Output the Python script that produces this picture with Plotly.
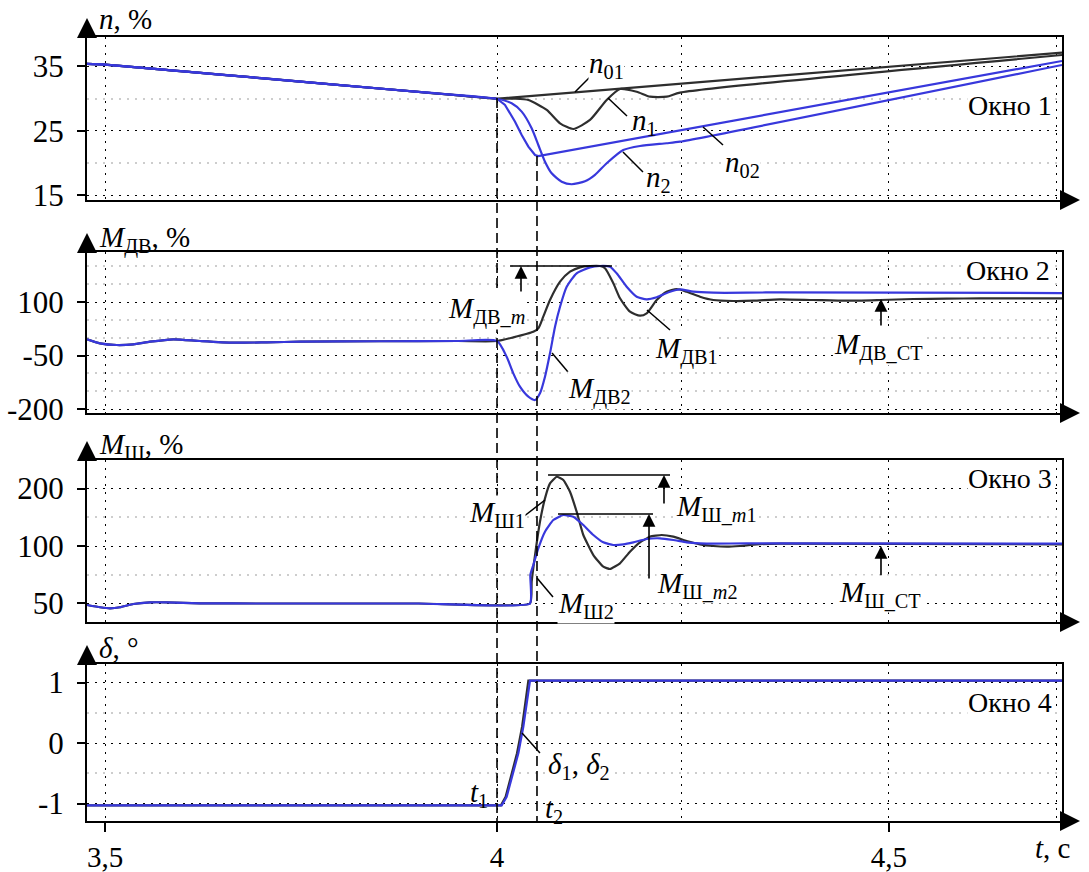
import plotly.graph_objects as go

FONT = "Liberation Serif, Times New Roman, DejaVu Serif, serif"
BLACK = "#2e2e2e"
BLUE = "#3838dc"
FS = 29
TFS = 31
XFS = 29

# ---------------- data ----------------
T_RANGE = [3.477, 4.7207]
x_tickvals = [3.5, 4.0, 4.5]
x_ticktext = ["3,5", "4", "4,5"]
x_extra_grid = [4.235, 4.714]

# Window 1 : n, %
t_n_pre = [3.477, 3.5, 3.6, 3.7, 3.8, 3.9, 4.0]
n_pre = [35.4, 35.3, 34.24, 33.18, 32.12, 31.06, 30.0]
t_n01 = [4.7207]
n01 = [37.14]
t_n1 = [4.023, 4.040, 4.0634, 4.0804, 4.0974, 4.1186, 4.1399, 4.1569, 4.1782, 4.1952, 4.2165, 4.2334, 4.7207]
n1 = [30.0, 29.8, 28.26, 26.19, 25.31, 26.71, 29.81, 31.51, 31.09, 30.32, 30.32, 30.94, 36.78]
t_n02 = [4.0102, 4.023, 4.0315, 4.04, 4.0485, 4.0527, 4.7207]
n02 = [29.03, 26.44, 24.38, 22.57, 21.28, 21.12, 35.85]
t_n2 = [4.0187, 4.0315, 4.0442, 4.0527, 4.0612, 4.0697, 4.0825, 4.0952, 4.1122, 4.125, 4.1399, 4.1611, 4.1824, 4.2164, 4.2334, 4.7207]
n2 = [29.29, 28.0, 25.42, 22.83, 20.24, 18.44, 17.14, 16.74, 17.2, 18.2, 20.0, 22.05, 22.67, 23.1, 23.34, 35.23]
n_ticks = [35, 25, 15]
n_minor = [30, 20]

# Window 2 : M_DV, %
t_m_pre = [3.477, 3.4936, 3.5149, 3.5361, 3.5574, 3.5871, 3.6212, 3.6637, 3.7062, 3.7487, 3.85, 3.95, 4.0]
m_pre = [-4.6, -15.8, -20.6, -18.6, -11.3, -4.6, -9.4, -14.1, -13.0, -11.3, -10.0, -9.4, -9.4]
t_mdv1 = [4.0208, 4.0463, 4.0527, 4.059, 4.0676, 4.0804, 4.0931, 4.1059, 4.1186, 4.1314, 4.1378, 4.1484,
          4.1569, 4.1696, 4.1824, 4.1909, 4.2037, 4.2164, 4.2292, 4.2419, 4.2589, 4.2759, 4.3014, 4.3269,
          4.361, 4.4034, 4.446, 4.4885, 4.531, 4.5736, 4.616, 4.658, 4.7207]
mdv1 = [1.0, 16.7, 26.2, 58.8, 105.6, 156.9, 185.0, 197.2, 200.9, 200.9, 194.5, 152.4,
        110.4, 72.8, 61.6, 68.3, 105.6, 128.9, 136.5, 128.9, 114.9, 105.6, 102.8, 103.6,
        107.6, 105.6, 103.6, 105.6, 108.4, 109.3, 110.4, 110.4, 110.4]
t_mdv2 = [4.0123, 4.0208, 4.0293, 4.04, 4.0485, 4.0548, 4.0612, 4.0676, 4.074, 4.0804, 4.0889, 4.1016,
          4.1186, 4.1314, 4.1441, 4.1526, 4.1654, 4.1782, 4.1909, 4.2037, 4.2207, 4.2334, 4.2504,
          4.2759, 4.3185, 4.361, 4.7207]
mdv2 = [-53.4, -100.0, -137.5, -165.5, -174.8, -156.0, -109.5, -43.8, 30.8, 86.8, 142.9, 180.5,
        197.2, 200.9, 199.0, 180.5, 142.9, 114.9, 107.6, 113.2, 128.9, 135.6, 128.9,
        126.1, 126.1, 127.2, 125.0]
mdv_ticks = [100, -50, -200]
mdv_minor = [200, 150, 50, 0, -100, -150]
mdv_m_level = 200.9
mdv_st_level = 108.4

# Window 3 : M_Sh (axis units; tick labels as printed on the original)
t_s_pre = [3.477, 3.4936, 3.5064, 3.5191, 3.5361, 3.5574, 3.5786, 3.6212, 3.7, 3.9, 4.0421]
s_pre = [-2.6, -6.6, -8.4, -6.6, -0.9, 2.0, 2.0, 0.3, 0.0, 0.0, 0.0]
t_msh1 = [4.0442, 4.0485, 4.0548, 4.0612, 4.0676, 4.0761, 4.0846, 4.0931, 4.1016, 4.1101, 4.1229,
          4.1356, 4.1441, 4.1569, 4.1696, 4.1824, 4.1952, 4.2101, 4.2249, 4.2419, 4.2589, 4.2759,
          4.293, 4.3099, 4.3312, 4.361, 4.7207]
msh1 = [37.9, 84.3, 142.3, 182.9, 209.0, 220.5, 214.8, 194.4, 159.7, 119.1, 84.3,
        64.0, 60.0, 69.9, 90.1, 106.4, 116.2, 119.1, 116.2, 108.7, 102.9, 100.0,
        98.8, 100.0, 102.9, 104.0, 103.0]
t_msh2 = [4.0425, 4.0463, 4.0527, 4.0612, 4.0718, 4.0846, 4.0973, 4.1101, 4.1229, 4.1356, 4.1484,
          4.1611, 4.1739, 4.1909, 4.2079, 4.2249, 4.2419, 4.2589, 4.2759, 4.3185, 4.361, 4.7207]
msh2 = [49.6, 67.0, 96.0, 124.9, 145.2, 153.9, 151.0, 136.5, 119.1, 106.4, 101.7,
        102.9, 106.4, 112.2, 113.4, 110.4, 106.4, 104.7, 104.0, 104.7, 104.5, 104.0]
msh_tickvals = [0, 100, 200]
msh_ticktext = ["50", "100", "200"]
msh_minor = [50, 150]
msh_m1_level = 223.5
msh_m2_level = 155.7
msh_st_level = 100.0

# Window 4 : delta, deg
t_d1 = [3.477, 4.005, 4.011, 4.019, 4.0255, 4.032, 4.038, 4.040, 4.7207]
d1 = [-1.03, -1.03, -0.89, -0.5, -0.17, 0.27, 0.82, 1.03, 1.03]
t_d2 = [3.477, 4.006, 4.0123, 4.0208, 4.0272, 4.0336, 4.04, 4.0421, 4.7207]
d2 = [-1.03, -1.03, -0.89, -0.5, -0.17, 0.27, 0.82, 1.03, 1.03]
d_ticks = [1, 0, -1]
d_minor = [0.5, -0.5]

t1_time = 4.0
t2_time = 4.051

# ---------------- figure ----------------
L, T, W, H = 87, 37, 975, 784
FIG_W, FIG_H = 1089, 872


def px(x):
    return (x - L) / W


def py(y):
    return (T + H - y) / H


fig = go.Figure()


def line(x, y, color, ax, shape="spline", smooth=0.6, width=2.2):
    fig.add_trace(go.Scatter(x=x, y=y, mode="lines", xaxis=ax[0], yaxis=ax[1],
                             line=dict(color=color, width=width, shape=shape,
                                       smoothing=smooth if shape == "spline" else None),
                             hoverinfo="skip", showlegend=False))


A1, A2, A3, A4 = ("x", "y"), ("x2", "y2"), ("x3", "y3"), ("x4", "y4")

# window 1
line(t_n_pre + t_n01, n_pre + n01, BLACK, A1, shape="linear")
line(t_n_pre + t_n1, n_pre + n1, BLACK, A1)
line(t_n_pre + t_n02, n_pre + n02, BLUE, A1, shape="linear")
line(t_n_pre + t_n2, n_pre + n2, BLUE, A1)
# window 2
line(t_m_pre + t_mdv1, m_pre + mdv1, BLACK, A2)
line(t_m_pre + t_mdv2, m_pre + mdv2, BLUE, A2)
# window 3
line(t_s_pre + t_msh1, s_pre + msh1, BLACK, A3, smooth=0.4)
line(t_s_pre + t_msh2, s_pre + msh2, BLUE, A3, smooth=0.4)
# window 4
line(t_d1, d1, BLACK, A4, shape="linear")
line(t_d2, d2, BLUE, A4, shape="linear")

DOT = "2px,6px"
GRAY = "#cdcdcd"

domains = [(py(200), py(37)), (py(413), py(252)), (py(622), py(460)), (py(821), py(664))]
yranges = [[14.30, 39.57], [-211.2, 240.2], [-32.2, 249.6], [-1.289, 1.306]]
yticks = [(n_ticks, [str(v) for v in n_ticks], n_minor),
          (mdv_ticks, [str(v) for v in mdv_ticks], mdv_minor),
          (msh_tickvals, msh_ticktext, msh_minor),
          (d_ticks, [str(v) for v in d_ticks], d_minor)]

for i in range(4):
    sfx = "" if i == 0 else str(i + 1)
    last = i == 3
    fig.layout["xaxis" + sfx] = dict(
        range=T_RANGE, domain=[0, 1], anchor="y" + sfx, automargin=False,
        showline=True, linewidth=2, linecolor="black", mirror=True,
        tickvals=x_tickvals, ticktext=x_ticktext,
        showticklabels=last, ticks="outside" if last else "",
        ticklen=9, tickwidth=2, tickcolor="black", ticklabelstandoff=0,
        tickfont=dict(family=FONT, size=XFS, color="black"),
        showgrid=True, gridcolor="black", griddash=DOT, gridwidth=1.3,
        minor=dict(tickvals=x_extra_grid, showgrid=True, gridcolor="black",
                   griddash=DOT, gridwidth=1.3, ticks=""),
        zeroline=False, fixedrange=True)
    tv, tt, mn = yticks[i]
    fig.layout["yaxis" + sfx] = dict(
        range=yranges[i], domain=list(domains[i]), anchor="x" + sfx, automargin=False,
        showline=True, linewidth=2, linecolor="black", mirror=True,
        tickvals=tv, ticktext=tt, ticks="outside", ticklen=8, tickwidth=2,
        tickcolor="black", ticklabelstandoff=7,
        tickfont=dict(family=FONT, size=TFS, color="black"),
        showgrid=True, gridcolor="black", griddash=DOT, gridwidth=1.3,
        minor=dict(tickvals=mn, showgrid=True, gridcolor=GRAY, gridwidth=2, ticks=""),
        zeroline=False, fixedrange=True)

shapes = []
# t1 / t2 dashed markers through all windows
shapes.append(dict(type="line", xref="x", yref="paper", x0=t1_time, x1=t1_time,
                   y0=py(98), y1=py(828), line=dict(color="black", width=1.6, dash="10px,5px")))
shapes.append(dict(type="line", xref="x", yref="paper", x0=t2_time, x1=t2_time,
                   y0=py(156), y1=py(821), line=dict(color="black", width=1.6, dash="10px,5px")))


def seg(ax, x0, y0, x1, y1, w=1.5):
    shapes.append(dict(type="line", xref=ax[0], yref=ax[1], x0=x0, y0=y0, x1=x1, y1=y1,
                       line=dict(color="black", width=w)))


# level lines
seg(A2, 4.0166, mdv_m_level, 4.1467, mdv_m_level)
seg(A3, 4.0651, msh_m1_level, 4.2207, msh_m1_level)
seg(A3, 4.0778, msh_m2_level, 4.1990, msh_m2_level)
# leader lines
seg(A1, 4.0995, 31.05, 4.1186, 33.37)
seg(A1, 4.1416, 30.12, 4.1658, 27.33)
seg(A1, 4.1607, 21.74, 4.1862, 18.64)
seg(A1, 4.2628, 25.62, 4.2883, 22.83)
seg(A2, 4.1913, 77.6, 4.2207, 21.5)
seg(A2, 4.0702, -43.0, 4.0906, -96.3)
seg(A3, 4.0332, 150.4, 4.0612, 180.0)
seg(A3, 4.0510, 44.3, 4.0714, 11.3)
seg(A4, 4.0319, 0.165, 4.0548, -0.165)

fig.update_layout(shapes=shapes)

ann = []


def text(x, y, s, size=FS, bg=None, xanchor="center"):
    d = dict(x=px(x), y=py(y), xref="paper", yref="paper", text=s, showarrow=False,
             xanchor=xanchor, yanchor="middle",
             font=dict(family=FONT, size=size, color="black"))
    if bg:
        d["bgcolor"] = bg
        d["borderpad"] = 0
    ann.append(d)


def arrow_data(ax, x, y_tail, y_head):
    ann.append(dict(x=x, y=y_head, ax=x, ay=y_tail, xref=ax[0], yref=ax[1],
                    axref=ax[0], ayref=ax[1], text="", showarrow=True,
                    arrowhead=2, arrowsize=1.6, arrowwidth=1.6, arrowcolor="black"))


def arrow_paper(x, y, dx, dy):
    ann.append(dict(x=x, y=y, xref="paper", yref="paper", ax=dx, ay=dy, text="",
                    showarrow=True, arrowhead=2, arrowsize=2.0, arrowwidth=2,
                    arrowcolor="black"))


# axis arrows
for top, bot in [(37, 200), (252, 413), (460, 622), (664, 821)]:
    arrow_paper(0, py(top - 19), 0, 19)
    arrow_paper(px(1080), py(bot), -18, 0)

# level arrows
arrow_data(A2, 4.0306, 97.2, mdv_m_level)
arrow_data(A2, 4.4898, 29.9, mdv_st_level)
arrow_data(A3, 4.2130, 171.3, msh_m1_level)
arrow_data(A3, 4.1939, 40.9, msh_m2_level)
arrow_data(A3, 4.4898, 46.1, msh_st_level)

# axis titles
text(97, 19, "<i>n</i>, %", xanchor="left")
text(97, 240, "<i>M</i><sub>ДВ</sub>, %", xanchor="left")
text(97, 446, "<i>M</i><sub>Ш</sub>, %", xanchor="left")
text(97, 648, "<i>δ</i>, °", xanchor="left")
text(1052, 848, "<i>t</i>, с")

# window labels
text(1010, 106, "Окно 1", size=28, bg="white")
text(1008, 270, "Окно 2", size=28, bg="white")
text(1010, 478, "Окно 3", size=28, bg="white")
text(1010, 702, "Окно 4", size=28, bg="white")

# curve labels
text(606, 65, "<i>n</i><sub>01</sub>", bg="white")
text(644, 122, "<i>n</i><sub>1</sub>")
text(658, 179, "<i>n</i><sub>2</sub>")
text(742, 164, "<i>n</i><sub>02</sub>", bg="white")
text(486, 310, "<i>M</i><sub>ДВ_<i>m</i></sub>", bg="white")
text(686, 350, "<i>M</i><sub>ДВ1</sub>", bg="white")
text(599, 390, "<i>M</i><sub>ДВ2</sub>", bg="white")
text(878, 346, "<i>M</i><sub>ДВ_СТ</sub>", bg="white")
text(497, 514, "<i>M</i><sub>Ш1</sub>", bg="white")
text(716, 508, "<i>M</i><sub>Ш_<i>m</i>1</sub>", bg="white")
text(697, 585, "<i>M</i><sub>Ш_<i>m</i>2</sub>", bg="white")
text(586, 605, "<i>M</i><sub>Ш2</sub>", bg="white")
text(880, 594, "<i>M</i><sub>Ш_СТ</sub>", bg="white")
text(579, 766, "<i>δ</i><sub>1</sub>, <i>δ</i><sub>2</sub>", bg="white")
text(479, 794, "<i>t</i><sub>1</sub>")
text(554, 810, "<i>t</i><sub>2</sub>")

fig.update_layout(
    annotations=ann,
    width=FIG_W, height=FIG_H,
    margin=dict(l=L, r=FIG_W - L - W, t=T, b=FIG_H - T - H, pad=0, autoexpand=False),
    paper_bgcolor="white", plot_bgcolor="white",
    showlegend=False,
    font=dict(family=FONT, size=FS, color="black"),
)

fig.write_html("out.html", config={"displayModeBar": False},
               post_script="document.body.style.margin='0';document.body.style.overflow='hidden';")
